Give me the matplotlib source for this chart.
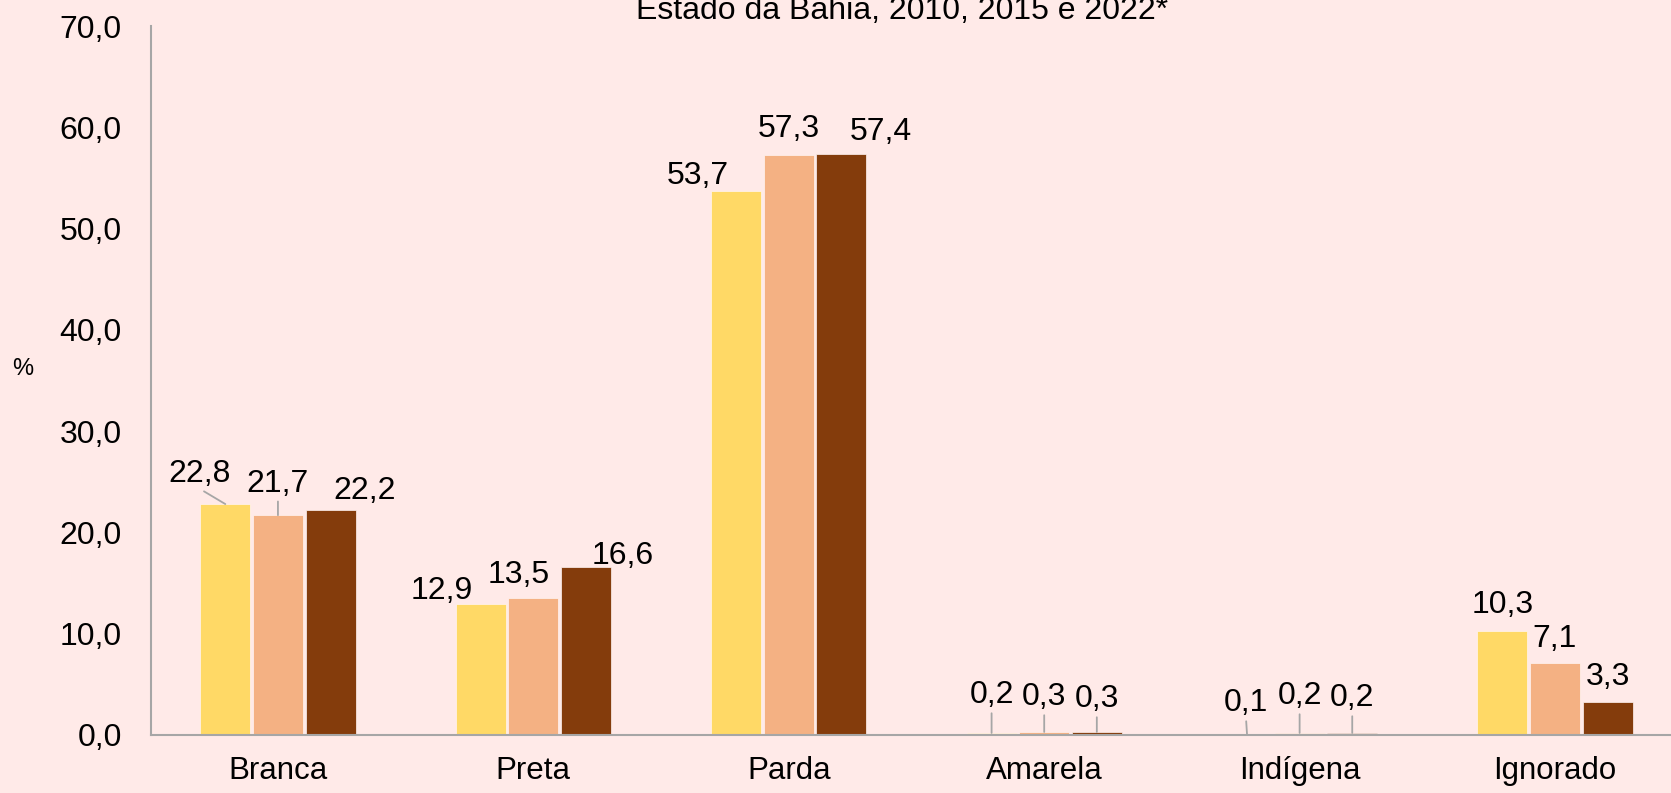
import matplotlib
matplotlib.use("Agg")
import matplotlib.pyplot as plt
import numpy as np

# ---- data ----
categories = ["Branca", "Preta", "Parda", "Amarela", "Indígena", "Ignorado"]
years = ["2010", "2015", "2022*"]
v2010 = [22.8, 12.9, 53.7, 0.2, 0.1, 10.3]
v2015 = [21.7, 13.5, 57.3, 0.3, 0.2, 7.1]
v2022 = [22.2, 16.6, 57.4, 0.3, 0.2, 3.3]
yticks = [0, 10, 20, 30, 40, 50, 60, 70]
title = "Estado da Bahia, 2010, 2015 e 2022*"

# ---- style ----
bg = "#FFEAE8"
colors = ["#FFD966", "#F4B183", "#843C0C"]
axis_gray = "#A6A6A6"
plt.rcParams["font.family"] = ["Liberation Sans", "DejaVu Sans"]

# label offsets (pixels) of label visual centre relative to bar top-centre
label_off = [
    [(-26, 34), (0, 35), (34, 23)],
    [(-39, 17), (-15, 26.5), (37, 14)],
    [(-38, 19), (0, 29.5), (39, 25)],
    [(0, 41), (0, 38), (0, 36)],
    [(-1, 34), (0, 40), (0, 38)],
    [(0, 29), (0, 28), (0, 28)],
]
leaders = {(0, 0), (0, 1), (3, 0), (3, 1), (3, 2), (4, 0), (4, 1), (4, 2)}

W, H = 1671, 793
fig = plt.figure(figsize=(W / 100, H / 100), dpi=100, facecolor=bg)
ax = fig.add_axes([151 / W, (H - 735) / H, (W - 151) / W, (735 - 26) / H])
ax.set_facecolor(bg)

x = np.arange(len(categories))
step = 0.206
bw = 0.196
series = [v2010, v2015, v2022]
for j, vals in enumerate(series):
    xs = x + (j - 1) * step
    ax.bar(xs, vals, width=bw, color=colors[j], edgecolor="#FFF4F2",
           linewidth=0.5, zorder=2, label=years[j])
    for i, v in enumerate(vals):
        dx, dy = label_off[i][j]
        kw = {}
        if (i, j) in leaders:
            kw["arrowprops"] = dict(arrowstyle="-", color=axis_gray, lw=1.3,
                                    shrinkA=0, shrinkB=0, relpos=(0.5, 0.0))
        ax.annotate(f"{v:.1f}".replace(".", ","), xy=(xs[i], v),
                    xytext=(dx, dy - 11.5), textcoords="offset pixels",
                    ha="center", va="baseline", fontsize=23, color="black",
                    zorder=3, annotation_clip=False, **kw)

ax.set_xlim(-0.497, 5.454)
ax.set_ylim(0, 70)
ax.set_yticks(yticks)
ax.set_yticklabels([f"{t:.1f}".replace(".", ",") for t in yticks], fontsize=23)
ax.set_xticks(x)
ax.set_xticklabels(categories, fontsize=22.5)
ax.tick_params(axis="y", length=0, pad=21)
ax.tick_params(axis="x", length=0, pad=15)
for s in ["top", "right"]:
    ax.spines[s].set_visible(False)
for s in ["left", "bottom"]:
    ax.spines[s].set_color(axis_gray)
    ax.spines[s].set_linewidth(1.5)

fig.text(902 / W, (H - 19) / H, title, ha="center", va="baseline", fontsize=23)
fig.text(23 / W, (H - 369) / H, "%", ha="center", va="center", fontsize=17)

fig.savefig("out.png", dpi=100, facecolor=bg)
